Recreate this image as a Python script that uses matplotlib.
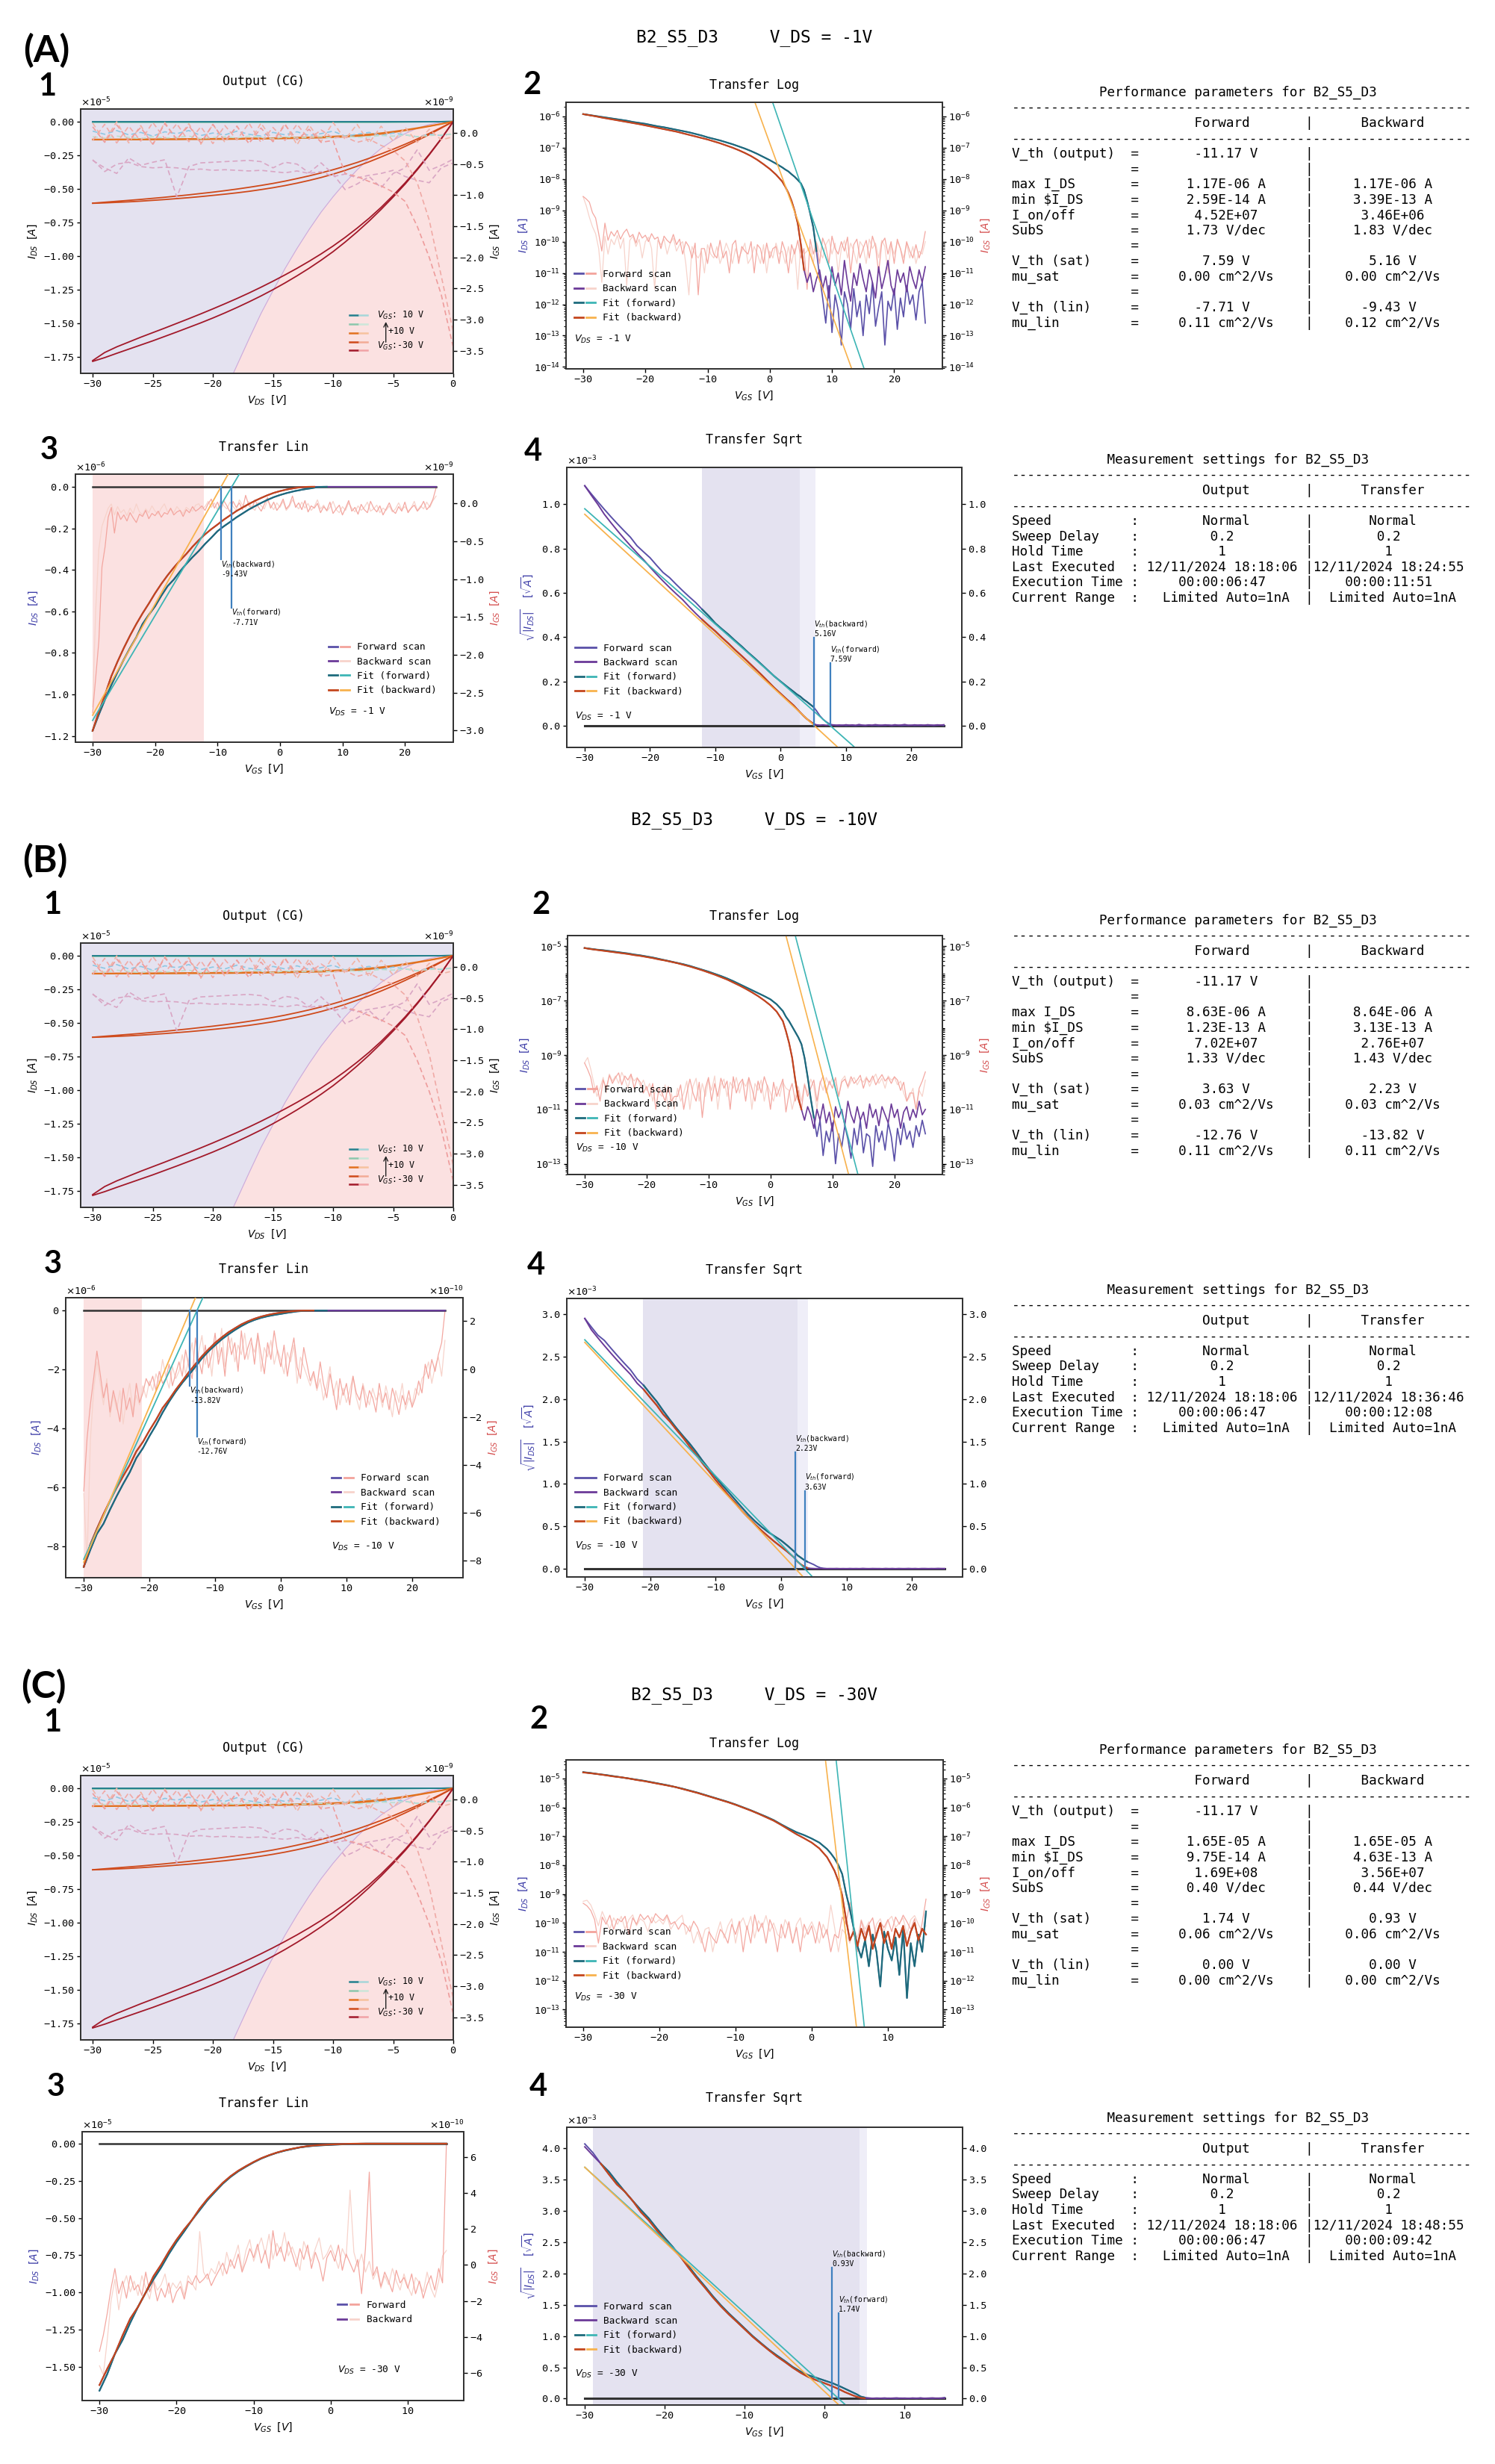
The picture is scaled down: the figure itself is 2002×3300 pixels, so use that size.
import numpy as np
import matplotlib
matplotlib.use("Agg")
import matplotlib.pyplot as plt
from matplotlib.lines import Line2D
from matplotlib.legend_handler import HandlerTuple
from matplotlib.ticker import (MultipleLocator, LogLocator, NullFormatter,
                               FixedLocator, FuncFormatter)

# ============================ DATA ============================
device = "B2_S5_D3"
vds_sections = [-1, -10, -30]

# ---- Output (CG) characteristic (same measurement in all three sections) ----
vds_out = list(range(-30, 1))                       # V_DS [V]
# I_DS in uA
ids_out_p10 = [-0.02]*25 + [-0.01, -0.01, -0.01, -0.01, -0.01, 0.0]
ids_out_0 = [-0.06]*25 + [-0.05, -0.04, -0.03, -0.02, -0.01, 0.0]
ids_out_m10_f = [-1.36, -1.36, -1.35, -1.35, -1.35, -1.35, -1.34, -1.34, -1.33, -1.33,
                 -1.32, -1.32, -1.31, -1.30, -1.29, -1.28, -1.27, -1.25, -1.23, -1.21,
                 -1.18, -1.14, -1.09, -1.02, -0.93, -0.81, -0.67, -0.52, -0.36, -0.19, 0.0]
ids_out_m10_b = [-1.33, -1.33, -1.32, -1.32, -1.31, -1.31, -1.30, -1.30, -1.29, -1.29,
                 -1.28, -1.27, -1.26, -1.25, -1.24, -1.23, -1.21, -1.19, -1.17, -1.14,
                 -1.11, -1.07, -1.02, -0.95, -0.86, -0.75, -0.62, -0.48, -0.33, -0.17, 0.0]
ids_out_m20_f = [-6.09, -6.06, -6.02, -5.98, -5.93, -5.87, -5.81, -5.74, -5.67, -5.59,
                 -5.50, -5.41, -5.31, -5.20, -5.07, -4.93, -4.77, -4.59, -4.39, -4.17,
                 -3.92, -3.64, -3.33, -3.00, -2.64, -2.26, -1.85, -1.42, -0.97, -0.49, 0.0]
ids_out_m20_b = [-6.08, -6.01, -5.94, -5.87, -5.80, -5.72, -5.64, -5.55, -5.46, -5.36,
                 -5.26, -5.15, -5.03, -4.90, -4.76, -4.61, -4.44, -4.25, -4.05, -3.83,
                 -3.59, -3.33, -3.05, -2.74, -2.41, -2.06, -1.69, -1.30, -0.89, -0.45, 0.0]
ids_out_m30_f = [-17.86, -17.58, -17.26, -16.95, -16.64, -16.33, -16.00, -15.67, -15.33, -14.99,
                 -14.63, -14.25, -13.85, -13.43, -12.99, -12.52, -12.02, -11.49, -10.93, -10.33,
                 -9.69, -8.98, -8.22, -7.41, -6.54, -5.62, -4.65, -3.60, -2.48, -1.30, 0.0]
ids_out_m30_b = [-17.80, -17.20, -16.78, -16.42, -16.06, -15.72, -15.38, -15.03, -14.68, -14.32,
                 -13.95, -13.57, -13.18, -12.77, -12.34, -11.89, -11.42, -10.93, -10.41, -9.86,
                 -9.27, -8.63, -7.94, -7.20, -6.39, -5.50, -4.56, -3.53, -2.44, -1.27, 0.0]
# I_GS in pA
igs_out_p10 = [30, -20, 40, -30, 10, -50, 20, -10, 40, -40, 0, -30, 30, -20, -50, 10,
               -30, 20, -40, -10, 30, -50, -20, 10, -40, 0, -30, -60, -20, -40, -10]
igs_out_0 = [-60, -80, -50, -70, -90, -60, -80, -70, -50, -90, -70, -60, -80, -50, -70, -90,
             -60, -80, -70, -60, -80, -50, -70, -60, -40, -50, -30, -60, -40, -30, -20]
igs_out_m10 = [160, -130, 180, -160, 120, -190, 170, -110, 150, -180, 140, -150, 110, -170,
               160, -120, 150, -190, 130, -140, 170, -100, 140, -160, 110, -130, 90, -150,
               60, -110, -60]
igs_out_m20_f = [-440, -560, -650, -400, -520, -470, -430, -1030, -540, -480, -470, -460,
                 -450, -440, -460, -560, -470, -500, -640, -480, -660, -910, -820, -700,
                 -880, -650, -560, -270, -600, -520, -420]
igs_out_m20_b = [-430, -620, -500, -470, -540, -560, -550, -560, -590, -580, -600, -590,
                 -600, -610, -600, -620, -640, -610, -650, -620, -700, -660, -720, -680,
                 -650, -600, -700, -760, -800, -560, -480]
igs_out_m30_f = [100, -150, 130, -120, 90, -180, 150, -100, 120, -160, 140, -130, 110, -170,
                 80, -140, 130, -110, 60, -150, -120, -650, -700, -780, -850, -950, -1100,
                 -1500, -2000, -2600, -3450]
igs_out_m30_b = [-120, 140, -160, 110, -130, 170, -90, 150, -140, 100, -170, 120, -110, 160,
                 -150, 90, -120, 140, -100, 50, -80, -60, -150, -100, -200, -280, -450, -800,
                 -1400, -2300, -3200]
# saturation-region boundary of the output plot (uA)
sat_vds = [-18.3, -17, -16, -15, -14, -13, -12, -11, -10, -9, -8, -7, -6, -5, -4, -3, -2, -1, 0]
sat_ids = [-18.75, -16.2, -14.3, -12.6, -10.95, -9.45, -8.05, -6.75, -5.6, -4.55, -3.6,
           -2.75, -2.0, -1.4, -0.9, -0.5, -0.22, -0.06, 0.0]

# ---- Transfer data: V_GS grids ----
vgs_ab = list(range(-30, 3)) + [k / 2 for k in range(5, 51)]       # sections A, B
vgs_c = list(range(-30, 3)) + [k / 2 for k in range(5, 31)]        # section C
vgs_igs_ab = [k / 2 for k in range(-60, 51)]
vgs_igs_c = [k / 2 for k in range(-60, 31)]

# log10(|I_DS| / A)
ids_log_fwd_A = [-5.93, -5.96, -5.99, -6.02, -6.05, -6.08, -6.11, -6.14, -6.18, -6.21,
                 -6.24, -6.28, -6.32, -6.35, -6.39, -6.43, -6.47, -6.51, -6.56, -6.61,
                 -6.67, -6.72, -6.77, -6.83, -6.89, -6.96, -7.03, -7.11, -7.20, -7.30,
                 -7.40, -7.51, -7.63,
                 -7.70, -7.76, -7.85, -7.93, -8.03, -8.14, -8.35, -8.70, -9.10, -9.55,
                 -10.3, -11.1, -11.8, -12.6, -11.4, -12.9, -11.7, -12.2, -13.3, -11.6,
                 -12.0, -12.8, -11.5, -12.4, -11.9, -13.0, -11.7, -12.3, -11.3, -12.7,
                 -12.1, -11.6, -13.3, -11.9, -12.2, -11.5, -12.8, -11.8, -12.4, -11.4,
                 -12.0, -11.7, -12.5, -11.6, -11.3, -12.6]
ids_log_bwd_A = [-5.93, -5.965, -6.00, -6.04, -6.075, -6.11, -6.145, -6.18, -6.215, -6.25,
                 -6.29, -6.33, -6.37, -6.41, -6.45, -6.49, -6.54, -6.59, -6.64, -6.69,
                 -6.74, -6.80, -6.86, -6.93, -7.00, -7.08, -7.17, -7.27, -7.39, -7.53,
                 -7.68, -7.86, -8.08,
                 -8.25, -8.45, -8.70, -9.02, -9.42, -10.1, -10.9, -11.3, -11.0, -11.6,
                 -11.2, -10.9, -11.5, -11.1, -11.8, -10.8, -11.4, -11.0, -11.7, -10.6,
                 -11.3, -11.9, -11.0, -11.4, -10.7, -11.2, -11.6, -10.9, -11.3, -11.8,
                 -10.8, -11.5, -11.1, -10.6, -11.4, -11.7, -10.9, -11.3, -11.0, -11.6,
                 -10.8, -11.2, -11.5, -10.9, -11.3, -10.8]
ids_log_fwd_B = [-5.06, -5.09, -5.12, -5.14, -5.17, -5.20, -5.23, -5.26, -5.30, -5.33,
                 -5.37, -5.41, -5.46, -5.51, -5.56, -5.61, -5.66, -5.72, -5.79, -5.86,
                 -5.93, -6.01, -6.09, -6.18, -6.28, -6.39, -6.50, -6.61, -6.72, -6.83,
                 -6.95, -7.13, -7.38,
                 -7.59, -7.75, -7.95, -8.15, -8.35, -8.60, -9.10, -9.80, -10.6, -11.3,
                 -12.0, -11.4, -12.7, -11.8, -12.2, -11.5, -13.0, -11.9, -12.4, -11.6,
                 -12.1, -12.8, -11.7, -12.3, -11.4, -12.6, -11.9, -12.0, -13.1, -11.6,
                 -12.2, -11.8, -12.5, -11.5, -12.0, -12.9, -11.7, -12.3, -11.5, -12.1,
                 -11.8, -12.4, -11.6, -12.0, -11.4, -11.9]
ids_log_bwd_B = [-5.06, -5.10, -5.13, -5.16, -5.19, -5.22, -5.25, -5.28, -5.32, -5.35,
                 -5.39, -5.43, -5.48, -5.52, -5.57, -5.62, -5.68, -5.74, -5.81, -5.88,
                 -5.96, -6.04, -6.13, -6.22, -6.33, -6.44, -6.56, -6.69, -6.83, -6.99,
                 -7.17, -7.40, -7.75,
                 -8.12, -8.55, -9.10, -9.90, -10.6, -11.0, -11.4, -10.9, -11.2, -11.7,
                 -11.0, -11.4, -10.8, -11.5, -11.1, -11.8, -10.9, -11.3, -11.0, -11.6,
                 -10.7, -11.2, -11.5, -10.9, -11.4, -11.1, -11.7, -10.8, -11.3, -11.0,
                 -11.6, -10.9, -11.2, -11.5, -10.8, -11.3, -11.0, -11.7, -11.1, -10.9,
                 -11.4, -11.0, -11.3, -10.7, -11.2, -11.0]
ids_log_fwd_C = [-4.78, -4.81, -4.85, -4.88, -4.92, -4.96, -5.00, -5.04, -5.08, -5.13,
                 -5.18, -5.23, -5.29, -5.35, -5.42, -5.49, -5.57, -5.65, -5.73, -5.81,
                 -5.90, -6.00, -6.10, -6.21, -6.32, -6.44, -6.59, -6.73, -6.86, -6.96,
                 -7.08, -7.22, -7.44,
                 -7.59, -7.77, -8.00, -8.31, -8.97, -9.52, -10.17, -10.8, -11.2, -10.6,
                 -11.5, -10.4, -11.0, -12.2, -10.3, -10.9, -11.3, -10.5, -11.8, -10.2,
                 -12.6, -10.7, -11.5, -10.4, -11.0, -9.6]
ids_log_bwd_C = [-4.79, -4.82, -4.85, -4.89, -4.93, -4.96, -5.00, -5.05, -5.09, -5.14,
                 -5.19, -5.24, -5.29, -5.36, -5.43, -5.50, -5.58, -5.66, -5.74, -5.82,
                 -5.91, -6.01, -6.11, -6.22, -6.34, -6.46, -6.61, -6.77, -6.93, -7.07,
                 -7.22, -7.42, -7.72,
                 -7.95, -8.20, -8.55, -9.05, -9.87, -10.6, -10.3, -10.8, -10.2, -10.6,
                 -10.1, -10.9, -10.4, -10.0, -10.7, -10.3, -10.9, -10.2, -10.5, -10.1,
                 -10.8, -10.3, -10.0, -10.6, -10.2, -10.4]

# I_GS in pA (0.5 V steps)
igs_fwd_A = [-2770, -2300, -1820, -840, -570, -180, -50, -390, -110, -210,
             -150, -230, -120, -190, -250, -140, -170, -90, -200, -130,
             -160, -100, -180, -120, -140, -60, -150, -110, -90, -170,
             -80, -120, -40, -100, -70, -30, -90, -2, 60, -60,
             20, -90, 40, -30, -110, 30, -50, 10, -80, 110,
             -20, -70, 50, -40, -100, -10, 80, -60, 20, -90,
             -30, 60, -70, -20, 100, -50, 10, -80, 40, -110,
             -30, -60, 3, -120, -40, -90, 20, -130, -70, -20,
             -150, -60, 40, -100, -50, -140, -10, -80, -120, 30,
             -60, -110, -30, -150, -70, 10, -90, -130, -40, -100,
             20, -120, -60, -20, -100, -50, 30, -80, -30, 60,
             210]
igs_bwd_A = [-2690, -1400, -600, -300, -180, -60, -5, -150, -40, -120,
             -80, -160, -60, -130, -4, -110, -150, -70, -120, -30,
             -100, -140, -60, -3, -110, -80, -120, -40, -90, -130,
             -50, -80, -100, -20, -2, -70, -40, 30, -50, 10,
             -80, 40, -30, -70, 20, -40, -90, 50, -20, -60,
             30, -50, -90, 20, -30, -70, 40, -20, -80, 10,
             -50, 30, -90, -40, 50, -20, -70, 20, -60, 3,
             -90, -40, 50, -70, -20, -100, -50, 30, -80, -120,
             -40, -90, 10, -60, -110, -30, -90, -50, 20, -100,
             -70, -20, -120, -60, -90, -30, -110, -70, 10, -80,
             -40, -100, -60, 30, -90, -30, -70, 20, -50, 40,
             100]
igs_fwd_B = [-510, -290, -150, -40, 75, -20, -120, -60, -180, -90,
             -150, -220, -80, -170, -120, -200, -60, -140, -100, -40,
             -70, -30, -90, -10, -60, -40, 20, -70, -20, 30,
             -30, 80, 10, -40, 130, 40, -20, 100, 5, 60,
             150, 20, 90, -30, 140, 60, 110, -10, 160, 40,
             90, 130, 20, 150, 60, -20, 110, 40, 160, 70,
             10, 100, -30, 60, 130, 8, -40, 90, 20, -50,
             -10, -80, 30, -60, -120, -20, -90, -170, -40, -110,
             -60, -150, -30, -100, -130, -70, -160, -90, -120, -180,
             -60, -140, -100, -170, -80, -130, -190, -110, -150, -90,
             -160, -120, -50, -100, 20, -40, 40, -10, 60, 110,
             240]
igs_bwd_B = [-520, -810, -300, -90, 30, -60, -150, -40, -200, -110,
             -170, -90, -230, -130, -60, -180, -110, -150, -70, -120,
             -50, -90, -20, -60, 40, -30, -80, 10, -40, -10,
             60, -20, 40, 110, -10, 70, 140, 20, 90, -30,
             120, 50, 170, 10, 80, 130, 30, 100, 60, 150,
             40, 110, 70, 140, -10, 90, 50, 120, 20, 80,
             40, -20, 70, 30, 100, -60, 50, 10, -30, -70,
             -20, -90, -40, -130, -70, 10, -110, -50, -150, -80,
             -140, -90, -30, -120, -170, -60, -110, -150, -80, -130,
             -100, -160, -70, -130, -200, -90, -140, -60, -170, -120,
             -150, -80, -110, -40, -20, 30, -60, 10, 50, -30,
             120]
igs_fwd_C = [-480, -390, -270, -130, -20, -160, -90, -185, -60, -140,
             -110, -170, -40, -150, -90, -200, -130, -180, -100, -210,
             -150, -120, -190, -90, -110, -60, -100, -80, -50, -115,
             -70, -30, 10, -50, 30, -20, 60, -40, 20, 90,
             40, 115, 10, 80, -20, 190, 50, 100, 20, 130,
             60, -10, 90, 30, 110, -20, 70, 10, -90, 40,
             80, 20, 110, -30, 60, 10, -40, 30, -160, 90,
             515, -60, -10, -120, -40, -90, -150, -30, -100, -70,
             -130, -50, -160, -90, -185, -110, -60, -140, -20, -100,
             670]
igs_bwd_C = [-560, -610, -420, -200, -80, -250, -120, -60, -150, -90,
             -170, -60, -130, -190, -80, -140, -110, -50, -160, -100,
             -130, -90, -170, -60, -100, -140, 185, -40, -80, -20,
             -50, 20, -60, 70, -10, 40, 110, -30, 80, 140,
             20, 90, 150, 60, 170, 30, 120, 70, 180, 50,
             100, 40, -30, 130, 70, 20, 90, 150, 30, 60,
             110, 50, -20, 90, 40, 415, 70, -10, 60, -40,
             20, -80, -30, -130, -60, -110, -20, -90, -140, -50,
             -120, -170, -70, -100, -150, -40, -130, -180, -90, 50,
             80]

logfit_b0_A, logfit_S_A = [-5.29, -6.86], [1.73, 1.83]
logfit_b0_B, logfit_S_B = [-1.12, -2.43], [1.15, 1.15]
logfit_b0_C, logfit_S_C = [3.65, -0.263], [0.40, 0.44]
linfit_start_A, vth_lin_A = [-1.125e-6, -1.10e-6], [-7.71, -9.43]
linfit_start_B, vth_lin_B = [-8.45e-6, -8.55e-6], [-12.76, -13.82]
sqrtfit_start_A, vth_sat_A = [0.98e-3, 0.955e-3], [7.59, 5.16]
sqrtfit_start_B, vth_sat_B = [2.70e-3, 2.67e-3], [3.63, 2.23]
sqrtfit_start_C, vth_sat_C = [3.70e-3, 3.70e-3], [1.74, 0.93]
lin_window_A, lin_window_B = [-30, -12.2], [-30, -21.2]
sqrt_window_A = [-12.1, 2.9, 5.3]
sqrt_window_B = [-21.1, 2.57, 4.15]
sqrt_window_C = [-28.95, 4.33, 5.34]

# ---- tables ----
perf_labels = ['V_th (output)', '', 'max I_DS', 'min $I_DS', 'I_on/off', 'SubS', '',
               'V_th (sat)', 'mu_sat', '', 'V_th (lin)', 'mu_lin']
perf_fwd_A = ['-11.17 V', '', '1.17E-06 A', '2.59E-14 A', '4.52E+07', '1.73 V/dec', '',
              '7.59 V', '0.00 cm^2/Vs', '', '-7.71 V', '0.11 cm^2/Vs']
perf_bwd_A = ['', '', '1.17E-06 A', '3.39E-13 A', '3.46E+06', '1.83 V/dec', '',
              '5.16 V', '0.00 cm^2/Vs', '', '-9.43 V', '0.12 cm^2/Vs']
perf_fwd_B = ['-11.17 V', '', '8.63E-06 A', '1.23E-13 A', '7.02E+07', '1.33 V/dec', '',
              '3.63 V', '0.03 cm^2/Vs', '', '-12.76 V', '0.11 cm^2/Vs']
perf_bwd_B = ['', '', '8.64E-06 A', '3.13E-13 A', '2.76E+07', '1.43 V/dec', '',
              '2.23 V', '0.03 cm^2/Vs', '', '-13.82 V', '0.11 cm^2/Vs']
perf_fwd_C = ['-11.17 V', '', '1.65E-05 A', '9.75E-14 A', '1.69E+08', '0.40 V/dec', '',
              '1.74 V', '0.06 cm^2/Vs', '', '0.00 V', '0.00 cm^2/Vs']
perf_bwd_C = ['', '', '1.65E-05 A', '4.63E-13 A', '3.56E+07', '0.44 V/dec', '',
              '0.93 V', '0.06 cm^2/Vs', '', '0.00 V', '0.00 cm^2/Vs']
meas_labels = ['Speed', 'Sweep Delay', 'Hold Time', 'Last Executed', 'Execution Time',
               'Current Range']
meas_output = ['Normal', '0.2', '1', '12/11/2024 18:18:06', '00:00:06:47', 'Limited Auto=1nA']
meas_transfer_A = ['Normal', '0.2', '1', '12/11/2024 18:24:55', '00:00:11:51', 'Limited Auto=1nA']
meas_transfer_B = ['Normal', '0.2', '1', '12/11/2024 18:36:46', '00:00:12:08', 'Limited Auto=1nA']
meas_transfer_C = ['Normal', '0.2', '1', '12/11/2024 18:48:55', '00:00:09:42', 'Limited Auto=1nA']

# ============================ STYLE ============================
W, H = 2002, 3300
plt.rcParams.update({
    'font.family': ['DejaVu Sans Mono', 'DejaVu Sans'],
    'mathtext.fontset': 'dejavusans',
    'axes.edgecolor': '#333333',
    'axes.linewidth': 1.3,
    'axes.formatter.use_mathtext': True,
    'axes.formatter.limits': (-2, 3),
    'axes.labelsize': 10,
    'xtick.labelsize': 9.7, 'ytick.labelsize': 9.7,
})
C_BP, C_P = '#5a50a8', '#6b3a98'
C_SAL, C_LP = '#f3a39c', '#f7d3cb'
C_TD, C_TL = '#1d6b7c', '#3db5b5'
C_OD, C_OL = '#c4461d', '#f8b24d'
C_VTH = '#3f80bf'
LAV, LAV2, PINK = '#e4e2f0', '#efeef8', '#fbe1e1'
NAVY, RED = '#3a3aa6', '#d44c4c'

fig = plt.figure(figsize=(W / 100, H / 100), dpi=100)


def pbox(b):
    x0, y0, x1, y1 = b
    return [x0 / W, 1 - y1 / H, (x1 - x0) / W, (y1 - y0) / H]


def ftext(x, y, s, **kw):
    fig.text(x / W, 1 - y / H, s, **kw)


def tstyle(a):
    a.tick_params(which='major', direction='out', length=3.5, width=1.0, pad=2.5)
    a.tick_params(which='minor', direction='out', length=2.0, width=0.8)


def add_legend(ax, entries, xf, hpx, fs=9.2):
    handles = []
    for _, cols in entries:
        ls = [Line2D([], [], color=c, lw=2.0) for c in cols]
        handles.append(tuple(ls) if len(ls) > 1 else ls[0])
    ax.legend(handles, [e[0] for e in entries], loc='upper left',
              bbox_to_anchor=(xf, 0.352 + 7.5 / hpx), bbox_transform=ax.transAxes,
              frameon=False, fontsize=fs, handlelength=2.2, handletextpad=0.8,
              labelspacing=0.5, borderpad=0, borderaxespad=0,
              handler_map={tuple: HandlerTuple(ndivide=None, pad=0.35)})


def vth_mark(ax, v, yend, which, above):
    ax.plot([v, v], [0, yend], color=C_VTH, lw=1.6, zorder=6)
    ax.text(v, yend, f'$V_{{th}}$({which})\n{v:.2f}V', fontsize=7, ha='left',
            va='bottom' if above else 'top', zorder=7, linespacing=1.15)


def draw_output(box):
    ax = fig.add_axes(pbox(box))
    ax.set_facecolor(LAV)
    v = np.array(vds_out, float)
    sv, si = np.array(sat_vds), np.array(sat_ids) * 1e-6
    ax.fill_between(sv, si, -1e-4, color=PINK, lw=0, zorder=0.5)
    ax.plot(sv, si, color='#cfa9d9', lw=0.8, zorder=0.6)
    series = [(ids_out_0, ids_out_0, '#8cc7ad'), (ids_out_p10, ids_out_p10, '#24808e'),
              (ids_out_m10_f, ids_out_m10_b, '#e2711f'),
              (ids_out_m20_f, ids_out_m20_b, '#cf4a1b'),
              (ids_out_m30_f, ids_out_m30_b, '#a2192a')]
    for f, b, c in series:
        ax.plot(v, np.array(f) * 1e-6, color=c, lw=1.3, zorder=3)
        ax.plot(v, np.array(b) * 1e-6, color=c, lw=1.3, zorder=3)
    ax.set_xlim(-31, 0)
    ax.set_ylim(-1.875e-5, 0.093e-5)
    ax.xaxis.set_major_locator(MultipleLocator(5))
    ax.yaxis.set_major_locator(MultipleLocator(0.25e-5))
    ax.set_xlabel('$V_{DS}$ $[V]$')
    ax.set_ylabel('$I_{DS}$ $[A]$')
    tstyle(ax)
    ax2 = ax.twinx()
    dsh = (0, (4, 2.5))
    for arr, c in [(igs_out_p10, '#8dc7e3'), (igs_out_0, '#bddfcf'), (igs_out_m10, '#f1b3a4'),
                   (igs_out_m20_f, '#d9a6c4'), (igs_out_m20_b, '#d9a6c4'),
                   (igs_out_m30_f, '#ee9c9c'), (igs_out_m30_b, '#f0aaa6')]:
        ax2.plot(v, np.array(arr) * 1e-12, color=c, lw=1.2, ls=dsh)
    ax2.set_ylim(-3.865e-9, 0.386e-9)
    ax2.yaxis.set_major_locator(MultipleLocator(0.5e-9))
    ax2.set_ylabel('$I_{GS}$ $[A]$')
    tstyle(ax2)
    pairs = [('#24808e', '#a6d6d9'), ('#8cc7ad', '#cce6d9'), ('#e2711f', '#f6c29e'),
             ('#cf4a1b', '#f2ab96'), ('#a2192a', '#f1a3a6')]
    handles = [(Line2D([], [], color=a, lw=1.8), Line2D([], [], color=b, lw=1.8)) for a, b in pairs]
    ax2.legend(handles, [''] * 5, loc='upper left', bbox_to_anchor=(0.721, 0.237),
               bbox_transform=ax.transAxes, frameon=False, fontsize=8.4, handlelength=2.1,
               handletextpad=0, labelspacing=-0.1, borderpad=0, borderaxespad=0,
               handler_map={tuple: HandlerTuple(ndivide=None, pad=0.25)})
    ax2.text(0.796, 0.220, '$V_{GS}$: 10 V', transform=ax.transAxes, fontsize=8.4, va='center')
    ax2.text(0.826, 0.161, '+10 V', transform=ax.transAxes, fontsize=8.4, va='center')
    ax2.text(0.796, 0.102, '$V_{GS}$:-30 V', transform=ax.transAxes, fontsize=8.4, va='center')
    ax2.annotate('', xy=(0.819, 0.195), xytext=(0.819, 0.118), xycoords='axes fraction',
                 arrowprops=dict(arrowstyle='->', lw=1.0, color='#222222',
                                 shrinkA=0, shrinkB=0))


def draw_log(box, s):
    ax = fig.add_axes(pbox(box))
    ax2 = ax.twinx()
    ax.set_zorder(ax2.get_zorder() + 1)
    ax.patch.set_visible(False)
    vig = np.array(s['vig'])
    ax2.plot(vig, np.abs(np.array(s['igb'])) * 1e-12, color=C_LP, lw=0.9)
    ax2.plot(vig, np.abs(np.array(s['igf'])) * 1e-12, color=C_SAL, lw=0.9, alpha=0.95)
    vg = np.array(s['vgs'], float)
    lf, lb = np.array(s['lf']), np.array(s['lb'])
    ax.plot(vg, 10 ** lf, color=C_BP, lw=1.2)
    ax.plot(vg, 10 ** lb, color=C_P, lw=1.2)
    m = vg <= s['on'][0]
    ax.plot(vg[m], 10 ** lf[m], color=C_TD, lw=1.6)
    m = vg <= s['on'][1]
    ax.plot(vg[m], 10 ** lb[m], color=C_OD, lw=1.6)
    for b0, S, c in zip(s['b0'], s['S'], [C_TL, C_OL]):
        ax.plot(vg, 10 ** (b0 - vg / S), color=c, lw=1.2)
    for a in (ax, ax2):
        a.set_yscale('log')
        a.set_ylim(*s['logylim'])
        if s['odd']:
            a.yaxis.set_major_locator(FixedLocator([10.0 ** k for k in range(-13, -4, 2)]))
        else:
            a.yaxis.set_major_locator(LogLocator(base=10, numticks=30))
        a.yaxis.set_minor_locator(LogLocator(base=10, subs=np.arange(1, 10), numticks=30))
        a.yaxis.set_minor_formatter(NullFormatter())
        tstyle(a)
    ax.set_xlabel('$V_{GS}$ $[V]$')
    ax.set_ylabel('$I_{DS}$ $[A]$', color=NAVY)
    ax2.set_ylabel('$I_{GS}$ $[A]$', color=RED)
    hpx = box[3] - box[1]
    add_legend(ax, [('Forward scan', (C_BP, C_SAL)), ('Backward scan', (C_P, C_LP)),
                    ('Fit (forward)', (C_TD, C_TL)), ('Fit (backward)', (C_OD, C_OL))],
               0.022, hpx)
    ax.text(0.022, 0.112, f"$V_{{DS}}$ = {s['vds']} V", transform=ax.transAxes,
            fontsize=9.2, va='center')


def draw_lin(box, s):
    ax = fig.add_axes(pbox(box))
    ax2 = ax.twinx()
    ax.set_zorder(ax2.get_zorder() + 1)
    ax.patch.set_visible(False)
    if s['linwin'] is not None:
        ax2.axvspan(s['linwin'][0], s['linwin'][1], color=PINK, lw=0, zorder=0)
    vig = np.array(s['vig'])
    ax2.plot(vig, np.array(s['igb']) * 1e-12, color=C_LP, lw=0.9)
    ax2.plot(vig, np.array(s['igf']) * 1e-12, color=C_SAL, lw=0.9, alpha=0.95)
    vg = np.array(s['vgs'], float)
    idf, idb = -10 ** np.array(s['lf']), -10 ** np.array(s['lb'])
    ax.plot([vg[0], vg[-1]], [0, 0], color='#333333', lw=1.8, zorder=1)
    ax.plot(vg, idf, color=C_BP, lw=1.4, zorder=2)
    ax.plot(vg, idb, color=C_P, lw=1.4, zorder=2)
    m = vg <= s['on'][0]
    ax.plot(vg[m], idf[m], color=C_TD, lw=1.6, zorder=3)
    m = vg <= s['on'][1]
    ax.plot(vg[m], idb[m], color=C_OD, lw=1.6, zorder=3)
    if s['linfit'] is not None:
        starts, vths = s['linfit']
        for st, vt, c in zip(starts, vths, [C_TL, C_OL]):
            ax.plot(vg, st * (vt - vg) / (vt - vg[0]), color=c, lw=1.3, zorder=4)
        vth_mark(ax, vths[1], s['linends'][1], 'backward', False)
        vth_mark(ax, vths[0], s['linends'][0], 'forward', False)
    ax.set_ylim(*s['linyl'])
    ax2.set_ylim(*s['linyr'])
    ax.yaxis.set_major_locator(MultipleLocator(s['linstep'][0]))
    ax2.yaxis.set_major_locator(MultipleLocator(s['linstep'][1]))
    ax.xaxis.set_major_locator(MultipleLocator(10))
    for a in (ax, ax2):
        tstyle(a)
    ax.set_xlabel('$V_{GS}$ $[V]$')
    ax.set_ylabel('$I_{DS}$ $[A]$', color=NAVY)
    ax2.set_ylabel('$I_{GS}$ $[A]$', color=RED)
    hpx = box[3] - box[1]
    add_legend(ax, s['linleg'], 0.670, hpx)
    ax.text(0.670, 0.112, f"$V_{{DS}}$ = {s['vds']} V", transform=ax.transAxes,
            fontsize=9.2, va='center')


def draw_sqrt(box, s):
    ax = fig.add_axes(pbox(box))
    w = s['sqwin']
    ax.axvspan(w[0], w[2], color=LAV2, lw=0, zorder=0)
    ax.axvspan(w[0], w[1], color=LAV, lw=0, zorder=0)
    vg = np.array(s['vgs'], float)
    sf, sb = np.sqrt(10 ** np.array(s['lf'])), np.sqrt(10 ** np.array(s['lb']))
    ax.plot([vg[0], vg[-1]], [0, 0], color='#333333', lw=2.2, zorder=1)
    ax.plot(vg, sf, color=C_BP, lw=1.4, zorder=2)
    ax.plot(vg, sb, color=C_P, lw=1.4, zorder=2)
    m = (vg >= w[0]) & (vg <= w[2])
    ax.plot(vg[m], sf[m], color=C_TD, lw=1.6, zorder=3)
    ax.plot(vg[m], sb[m], color=C_OD, lw=1.6, zorder=3)
    starts, vths = s['sqfit']
    for st, vt, c in zip(starts, vths, [C_TL, C_OL]):
        ax.plot(vg, st * (vt - vg) / (vt - vg[0]), color=c, lw=1.3, zorder=4)
    vth_mark(ax, vths[1], s['sqends'][1], 'backward', True)
    vth_mark(ax, vths[0], s['sqends'][0], 'forward', True)
    ax.set_ylim(*s['sqylim'])
    ax.yaxis.set_major_locator(MultipleLocator(s['sqstep']))
    ax.xaxis.set_major_locator(MultipleLocator(10))
    ax.set_xlabel('$V_{GS}$ $[V]$')
    ax.set_ylabel(r'$\sqrt{|I_{DS}|}$  $[\sqrt{A}]$', color=NAVY)
    tstyle(ax)
    ax2 = ax.twinx()
    ax2.set_ylim(*s['sqylim'])
    ax2.yaxis.set_major_locator(MultipleLocator(s['sqstep']))
    ax2.yaxis.set_major_formatter(FuncFormatter(lambda val, p: f'{val * 1e3:.1f}'))
    tstyle(ax2)
    hpx = box[3] - box[1]
    add_legend(ax, [('Forward scan', (C_BP,)), ('Backward scan', (C_P,)),
                    ('Fit (forward)', (C_TD, C_TL)), ('Fit (backward)', (C_OD, C_OL))],
               0.021, hpx)
    ax.text(0.021, 0.112, f"$V_{{DS}}$ = {s['vds']} V", transform=ax.transAxes,
            fontsize=9.2, va='center')


def draw_tables(y_perf, y_meas, pf, pb, mt):
    fs, dy, x = 12.7, 20.6, 1355
    lines = [('Performance parameters for ' + device).center(58)]
    lines += ['-' * 58, ' ' * 17 + f"{'Forward':^20}|{'Backward':^20}", '-' * 58]
    for lab, a, b in zip(perf_labels, pf, pb):
        lines.append(f"{lab:<15}= {a:^20}|{b:^20}")
    for k, ln in enumerate(lines):
        ftext(x, y_perf + k * dy, ln, fontsize=fs, va='baseline', ha='left',
              family='DejaVu Sans Mono', parse_math=False)
    lines = [('Measurement settings for ' + device).center(58), '-' * 58,
             ' ' * 17 + f"{'Output':^20}|{'Transfer':^20}", '-' * 58]
    for lab, a, b in zip(meas_labels, meas_output, mt):
        lines.append(f"{lab:<15}: {a:^20}|{b:^20}")
    for k, ln in enumerate(lines):
        ftext(x, y_meas + k * dy, ln, fontsize=fs, va='baseline', ha='left',
              family='DejaVu Sans Mono', parse_math=False)


legend4 = [('Forward scan', (C_BP, C_SAL)), ('Backward scan', (C_P, C_LP)),
           ('Fit (forward)', (C_TD, C_TL)), ('Fit (backward)', (C_OD, C_OL))]

sections = [
    dict(tag='(A)', vds=vds_sections[0], vgs=vgs_ab, lf=ids_log_fwd_A, lb=ids_log_bwd_A,
         vig=vgs_igs_ab, igf=igs_fwd_A, igb=igs_bwd_A, on=(7.5, 5.5),
         b0=logfit_b0_A, S=logfit_S_A, logylim=(8.7e-15, 2.8e-6), odd=False,
         linwin=lin_window_A, linfit=(linfit_start_A, vth_lin_A), linends=(-0.582e-6, -0.35e-6),
         linyl=(-1.2298e-6, 0.0608e-6), linyr=(-3.157e-9, 0.39e-9), linstep=(0.2e-6, 0.5e-9),
         linleg=legend4,
         sqwin=sqrt_window_A, sqfit=(sqrtfit_start_A, vth_sat_A), sqends=(0.283e-3, 0.397e-3),
         sqylim=(-0.0984e-3, 1.1667e-3), sqstep=0.2e-3,
         boxes=[(108, 146, 607, 500), (758, 137, 1262, 494), (101, 635, 607, 994),
                (759, 626, 1288, 1001)],
         titles=[(353, 109), (1010, 114), (353, 599), (1010, 589)],
         sup=(1010, 50), letter=(62, 68),
         nums=[(63, 116), (712, 114), (66, 603), (714, 605)],
         tables=(128.5, 620.5), pf=perf_fwd_A, pb=perf_bwd_A, mt=meas_transfer_A),
    dict(tag='(B)', vds=vds_sections[1], vgs=vgs_ab, lf=ids_log_fwd_B, lb=ids_log_bwd_B,
         vig=vgs_igs_ab, igf=igs_fwd_B, igb=igs_bwd_B, on=(7.0, 5.0),
         b0=logfit_b0_B, S=logfit_S_B, logylim=(4e-14, 2.5e-5), odd=True,
         linwin=lin_window_B, linfit=(linfit_start_B, vth_lin_B), linends=(-4.28e-6, -2.55e-6),
         linyl=(-9.078e-6, 0.438e-6), linyr=(-8.72e-10, 2.98e-10), linstep=(2e-6, 2e-10),
         linleg=legend4,
         sqwin=sqrt_window_B, sqfit=(sqrtfit_start_B, vth_sat_B), sqends=(0.919e-3, 1.371e-3),
         sqylim=(-0.096e-3, 3.187e-3), sqstep=0.5e-3,
         boxes=[(108, 1263, 607, 1617), (760, 1253, 1262, 1573), (88, 1738, 620, 2113),
                (759, 1739, 1289, 2112)],
         titles=[(353, 1227), (1010, 1227), (353, 1700), (1010, 1701)],
         sup=(1010, 1098), letter=(60, 1153),
         nums=[(70, 1212), (724, 1212), (71, 1693), (718, 1695)],
         tables=(1237.5, 1732.5), pf=perf_fwd_B, pb=perf_bwd_B, mt=meas_transfer_B),
    dict(tag='(C)', vds=vds_sections[2], vgs=vgs_c, lf=ids_log_fwd_C, lb=ids_log_bwd_C,
         vig=vgs_igs_c, igf=igs_fwd_C, igb=igs_bwd_C, on=(15.0, 15.0),
         b0=logfit_b0_C, S=logfit_S_C, logylim=(2.46e-14, 4.4e-5), odd=False,
         linwin=None, linfit=None, linends=None,
         linyl=(-1.726e-5, 0.0798e-5), linyr=(-7.53e-10, 7.39e-10), linstep=(0.25e-5, 2e-10),
         linleg=[('Forward', (C_BP, C_SAL)), ('Backward', (C_P, C_LP))],
         sqwin=sqrt_window_C, sqfit=(sqrtfit_start_C, vth_sat_C), sqends=(1.364e-3, 2.095e-3),
         sqylim=(-0.103e-3, 4.34e-3), sqstep=0.5e-3,
         boxes=[(108, 2378, 607, 2732), (758, 2357, 1263, 2715), (110, 2855, 621, 3215),
                (759, 2849, 1289, 3221)],
         titles=[(353, 2341), (1010, 2335), (353, 2817), (1010, 2810)],
         sup=(1010, 2270), letter=(58, 2259),
         nums=[(70, 2307), (721, 2303), (75, 2795), (721, 2795)],
         tables=(2348.5, 2841.5), pf=perf_fwd_C, pb=perf_bwd_C, mt=meas_transfer_C),
]

titles = ['Output (CG)', 'Transfer Log', 'Transfer Lin', 'Transfer Sqrt']
for s in sections:
    b = s['boxes']
    draw_output(b[0])
    draw_log(b[1], s)
    draw_lin(b[2], s)
    draw_sqrt(b[3], s)
    for (tx, ty), t in zip(s['titles'], titles):
        ftext(tx, ty, t, fontsize=12, ha='center', va='center')
    ftext(s['sup'][0], s['sup'][1], f"{device}     V_DS = {s['vds']}V", fontsize=16.5,
          ha='center', va='center', parse_math=False)
    ftext(s['letter'][0], s['letter'][1], s['tag'], fontsize=36, fontweight='bold',
          family=['Lato', 'DejaVu Sans'], ha='center', va='center')
    for (nx, ny), n in zip(s['nums'], ['1', '2', '3', '4']):
        ftext(nx, ny, n, fontsize=30, fontweight='bold', family=['Lato', 'DejaVu Sans'],
              ha='center', va='center')
    draw_tables(s['tables'][0], s['tables'][1], s['pf'], s['pb'], s['mt'])

fig.savefig('out.png', dpi=100)
